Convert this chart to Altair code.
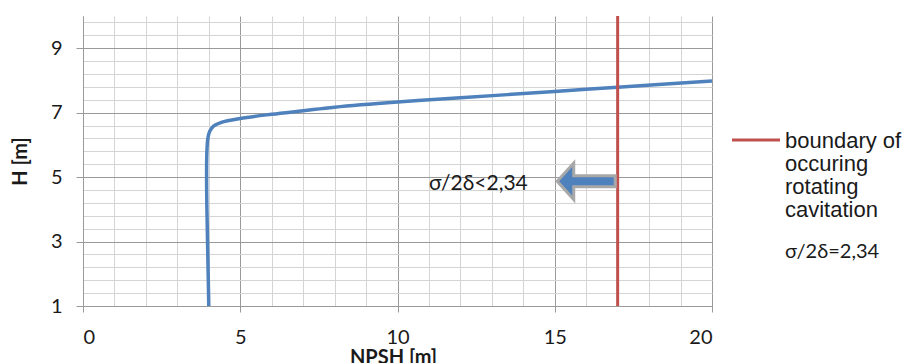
import altair as alt
import pandas as pd

# Curve: NPSH [m] vs H [m]
npsh = [4.00, 3.97, 3.94, 3.93, 3.94, 3.97, 4.03, 4.15, 4.40, 5.00, 6.00, 7.00, 8.00, 10.00, 12.00, 15.00, 17.00, 20.00]
head = [1.00, 2.50, 4.00, 5.00, 5.80, 6.20, 6.42, 6.58, 6.70, 6.82, 6.95, 7.06, 7.17, 7.33, 7.46, 7.66, 7.79, 7.98]

boundary_npsh = [17]
arrow_npsh = [16.0]
arrow_head = [4.87]
ann_text = ["σ/2δ<2,34"]
ann_npsh = [12.57]
ann_head = [4.59]
legend_lines = ["boundary of", "occuring", "rotating", "cavitation"]
legend_note = "σ/2δ=2,34"

x_ticks = list(range(0, 21))
y_ticks = [round(1 + 0.4 * i, 1) for i in range(23)]

BLUE = "#4F81BD"
RED = "#C0504D"
MAJ = "#9a9a9a"
MIN = "#d4d4d4"
TXT = "#1a1a1a"

curve_df = pd.DataFrame({"npsh": npsh, "head": head, "i": list(range(len(npsh)))})

xscale = alt.Scale(domain=[0, 20], nice=False, zero=False)
yscale = alt.Scale(domain=[1, 10], nice=False, zero=False)

x_major = "datum.value % 5 === 0"
y_major = "abs((datum.value - 1) / 2 - round((datum.value - 1) / 2)) < 0.001"

xaxis = alt.Axis(
    values=x_ticks, grid=True,
    gridColor={"condition": {"test": x_major, "value": MAJ}, "value": MIN},
    gridWidth=1,
    tickColor={"condition": {"test": x_major, "value": MAJ}, "value": "transparent"},
    tickSize=6,
    labelExpr=f"{x_major} ? datum.label : ''",
    labelOverlap=False, labelFont="Lato", labelFontSize=20, labelColor=TXT,
    labelBaseline="alphabetic", labelPadding=31,
    domainColor=MAJ, domainWidth=1,
    title="NPSH  [m]", titleFont="Lato", titleFontSize=20, titleFontWeight="bold",
    titleColor=TXT, titleX=310, titleY=57.7, titleAlign="center", titleBaseline="alphabetic",
)
yaxis = alt.Axis(
    values=y_ticks, grid=True,
    gridColor={"condition": {"test": y_major, "value": MAJ}, "value": MIN},
    gridWidth=1,
    tickColor={"condition": {"test": y_major, "value": MAJ}, "value": "transparent"},
    tickSize=7,
    labelExpr=f"{y_major} ? format(datum.value, 'd') : ''",
    labelOverlap=False, labelFont="Lato", labelFontSize=20, labelColor=TXT,
    labelPadding=14,
    domainColor=MAJ, domainWidth=1,
    title="H [m]", titleFont="Lato", titleFontSize=20, titleFontWeight="bold",
    titleColor=TXT, titleX=-56.3, titleY=145, titleAlign="center", titleBaseline="alphabetic",
    titleAngle=270,
)

X = alt.X("npsh:Q", scale=xscale, axis=xaxis)
Y = alt.Y("head:Q", scale=yscale, axis=yaxis)

curve = alt.Chart(curve_df).mark_line(
    color=BLUE, strokeWidth=3.5, interpolate="catmull-rom"
).encode(x=X, y=Y, order="i:Q")

boundary = alt.Chart(pd.DataFrame({"npsh": boundary_npsh})).mark_rule(
    color=RED, strokeWidth=3
).encode(x=X)

arrow_path = "M -1 0 L -0.43 -0.63 L -0.43 -0.19 L 1 -0.19 L 1 0.19 L -0.43 0.19 L -0.43 0.63 Z"
arrow = alt.Chart(pd.DataFrame({"npsh": arrow_npsh, "head": arrow_head})).mark_point(
    shape=arrow_path, size=3364, filled=True, color=BLUE, fill=BLUE,
    stroke="#a8a8a8", strokeWidth=3, opacity=1, fillOpacity=1, strokeOpacity=1,
).encode(x=X, y=Y)

ann = alt.Chart(pd.DataFrame({"npsh": ann_npsh, "head": ann_head, "t": ann_text})).mark_text(
    font="Lato", fontSize=21, align="center", baseline="alphabetic", color=TXT
).encode(x=X, y=Y, text="t:N")

one = pd.DataFrame({"k": [0]})
legend_line = alt.Chart(one).mark_rule(color=RED, strokeWidth=3).encode(
    x=alt.value(649), x2=alt.value(697), y=alt.value(124)
)
legend_text = alt.Chart(one).mark_text(
    font="Liberation Sans", fontSize=22, lineHeight=23, align="left",
    baseline="alphabetic", color=TXT
).encode(x=alt.value(702), y=alt.value(132), text=alt.value(legend_lines))
legend_note_t = alt.Chart(one).mark_text(
    font="Lato", fontSize=20, align="left", baseline="alphabetic", color=TXT
).encode(x=alt.value(702), y=alt.value(242), text=alt.value(legend_note))

chart = alt.layer(
    curve, boundary, arrow, ann, legend_line, legend_text, legend_note_t
).properties(
    width=629, height=290,
    autosize=alt.AutoSizeParams(type="none"),
    padding={"left": 75, "top": 8, "right": 192, "bottom": 57},
    background="white",
).configure_view(stroke=None)

chart.save("out.html", embed_options={"renderer": "svg", "actions": False})
